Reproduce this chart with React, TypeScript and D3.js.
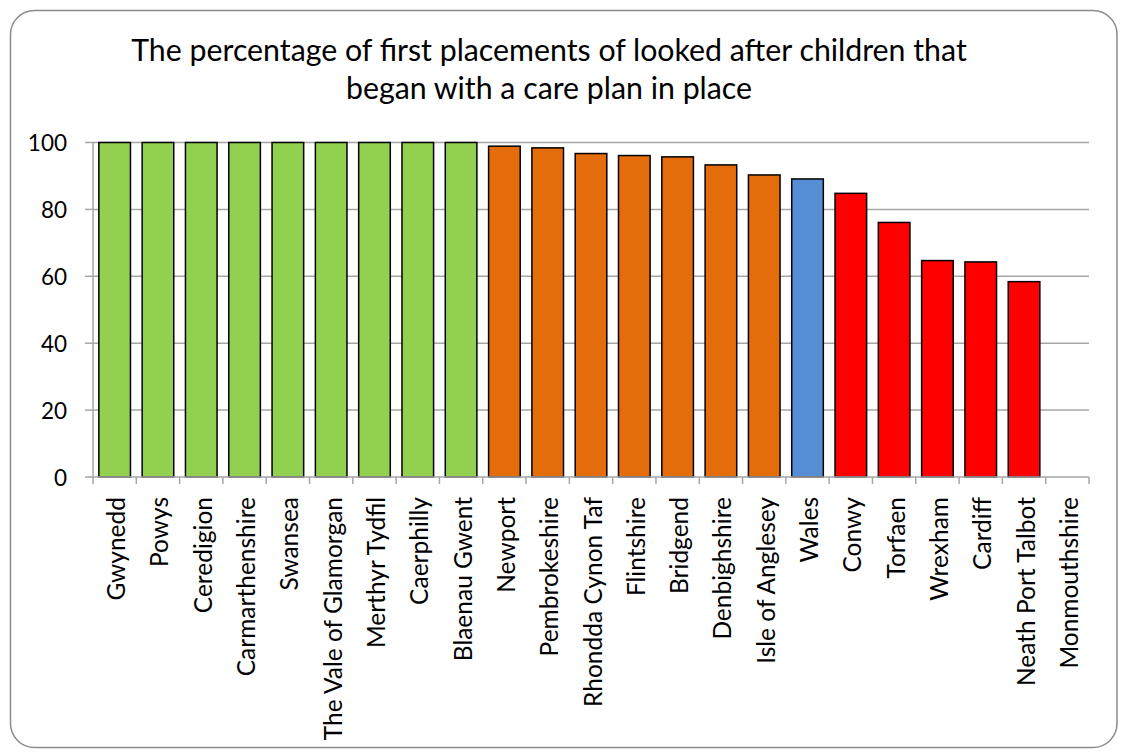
import React from "react";
import * as d3 from "d3";

const categories = [
  "Gwynedd", "Powys", "Ceredigion", "Carmarthenshire", "Swansea",
  "The Vale of Glamorgan", "Merthyr Tydfil", "Caerphilly", "Blaenau Gwent",
  "Newport", "Pembrokeshire", "Rhondda Cynon Taf", "Flintshire", "Bridgend",
  "Denbighshire", "Isle of Anglesey", "Wales", "Conwy", "Torfaen", "Wrexham",
  "Cardiff", "Neath Port Talbot", "Monmouthshire",
];
const values: (number | null)[] = [
  100, 100, 100, 100, 100, 100, 100, 100, 100,
  98.9, 98.4, 96.7, 96.1, 95.7, 93.3, 90.3, 89.1,
  84.8, 76.1, 64.7, 64.3, 58.4, null,
];
const groups = [
  "top", "top", "top", "top", "top", "top", "top", "top", "top",
  "mid", "mid", "mid", "mid", "mid", "mid", "mid", "wales",
  "low", "low", "low", "low", "low", "low",
];
const groupColors: Record<string, string> = {
  top: "#92d050",
  mid: "#e46c0a",
  wales: "#558ed5",
  low: "#ff0000",
};
const yTicks = [0, 20, 40, 60, 80, 100];
const titleLines = [
  "The percentage of first placements of looked after children that",
  "began with a care plan in place",
];

const W = 1124;
const H = 752;
const plot = { left: 93, right: 1089, top: 142.5, bottom: 477 };
const FONT = "Lato, 'Open Sans', sans-serif";

export default function App() {
  const x = d3
    .scaleBand<string>()
    .domain(categories)
    .range([plot.left, plot.right])
    .paddingInner(0.27)
    .paddingOuter(0.135);
  const step = x.step();
  const y = d3.scaleLinear().domain([0, 100]).range([plot.bottom, plot.top]);

  return (
    <svg
      width={W}
      height={H}
      style={{ position: "absolute", left: 0, top: 0, background: "#fff" }}
      fontFamily={FONT}
    >
      <rect x={0} y={0} width={W} height={H} fill="#fff" />
      <rect
        x={10.5}
        y={10.5}
        width={1106.5}
        height={737}
        rx={24}
        ry={24}
        fill="#fff"
        stroke="#8c8c8c"
        strokeWidth={1.5}
      />
      {titleLines.map((t, i) => (
        <text
          key={i}
          x={549}
          y={61 + i * 38}
          textAnchor="middle"
          fontSize={30.3}
          fill="#000"
        >
          {t}
        </text>
      ))}
      {yTicks.map((t) => (
        <g key={t}>
          {t > 0 && (
            <line
              x1={plot.left}
              x2={plot.right}
              y1={y(t)}
              y2={y(t)}
              stroke="#a6a6a6"
              strokeWidth={1.5}
            />
          )}
          <line
            x1={plot.left - 8}
            x2={plot.left}
            y1={y(t)}
            y2={y(t)}
            stroke="#a6a6a6"
            strokeWidth={1.5}
          />
          <text
            x={plot.left - 26}
            y={y(t)}
            textAnchor="end"
            dominantBaseline="central"
            fontSize={22.5}
            fill="#000"
          >
            {t}
          </text>
        </g>
      ))}
      {categories.map((c, i) => {
        const v = values[i];
        if (v == null) return null;
        return (
          <rect
            key={c}
            x={x(c)!}
            y={y(v)}
            width={x.bandwidth()}
            height={y(0) - y(v)}
            fill={groupColors[groups[i]]}
            stroke="#000"
            strokeWidth={1.5}
          />
        );
      })}
      <line
        x1={plot.left}
        x2={plot.left}
        y1={plot.top}
        y2={plot.bottom}
        stroke="#a6a6a6"
        strokeWidth={1.5}
      />
      <line
        x1={plot.left}
        x2={plot.right}
        y1={plot.bottom}
        y2={plot.bottom}
        stroke="#a6a6a6"
        strokeWidth={1.5}
      />
      {d3.range(categories.length + 1).map((i) => (
        <line
          key={i}
          x1={plot.left + i * step}
          x2={plot.left + i * step}
          y1={plot.bottom}
          y2={plot.bottom + 7}
          stroke="#a6a6a6"
          strokeWidth={1.5}
        />
      ))}
      {categories.map((c) => {
        const cx = x(c)! + x.bandwidth() / 2 + 1;
        const ty = 497;
        return (
          <text
            key={c}
            transform={`translate(${cx},${ty}) rotate(-90)`}
            textAnchor="end"
            dominantBaseline="central"
            fontSize={24.5}
            fill="#000"
          >
            {c}
          </text>
        );
      })}
    </svg>
  );
}
